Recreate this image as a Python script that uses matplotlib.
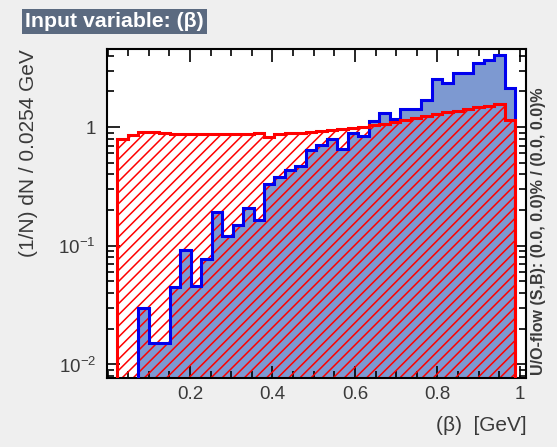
import numpy as np
import matplotlib
matplotlib.use("Agg")
import matplotlib.pyplot as plt
from matplotlib.ticker import FixedLocator, FuncFormatter, LogLocator, MultipleLocator

# ── binning ──────────────────────────────────────────────────────────────────
X_MIN = -0.0015
BIN_W = 0.0254
N_BINS = 40

# ── histogram contents (normalised) ─────────────────────────────────────────
# signal (blue), bins 0..39
signal = [0, 0, 0, 0.030, 0.015, 0.015, 0.045, 0.092, 0.046, 0.077,
          0.193, 0.120, 0.149, 0.207, 0.164, 0.330, 0.380, 0.434, 0.469, 0.640,
          0.705, 0.787, 0.648, 0.896, 0.840, 1.120, 1.320, 1.180, 1.410, 1.410,
          1.690, 2.530, 2.360, 2.880, 2.880, 3.450, 3.720, 4.050, 2.160, 0]
# background (red), bins 0..39
background = [0, 0.80, 0.86, 0.91, 0.91, 0.89, 0.88, 0.88, 0.87, 0.87,
              0.88, 0.87, 0.88, 0.88, 0.89, 0.83, 0.88, 0.885, 0.89, 0.91,
              0.92, 0.94, 0.96, 0.98, 1.01, 1.04, 1.07, 1.11, 1.15, 1.19,
              1.23, 1.28, 1.33, 1.37, 1.42, 1.47, 1.52, 1.56, 1.14, 0]

x_ticks = [0.2, 0.4, 0.6, 0.8, 1.0]
x_tick_labels = ["0.2", "0.4", "0.6", "0.8", "1"]
y_ticks = [1e-2, 1e-1, 1]
y_tick_labels = [r"10$^{-2}$", r"10$^{-1}$", "1"]

# ── style ────────────────────────────────────────────────────────────────────
plt.rcParams["font.family"] = ["Liberation Sans", "DejaVu Sans"]
plt.rcParams["mathtext.fontset"] = "custom"
plt.rcParams["mathtext.rm"] = "Liberation Sans"
plt.rcParams["hatch.linewidth"] = 1.1

C_SIG_FILL = "#7d99d1"
C_SIG_LINE = "#0000ee"
C_BKG = "#ff0000"
C_TEXT = "#3a3a3a"
C_BG = "#efefef"

fig = plt.figure(figsize=(5.57, 4.47), dpi=100, facecolor=C_BG)
ax = fig.add_axes([0.192, 0.154, 0.752, 0.736])
ax.set_facecolor("white")

edges = X_MIN + BIN_W * np.arange(N_BINS + 1)
sig = np.array(signal, dtype=float)
bkg = np.array(background, dtype=float)
floor = 1e-5


def step_outline(vals):
    # histogram outline as a step path, dropping to floor where a bin is empty
    xs, ys = [], []
    for i, v in enumerate(vals):
        v = v if v > 0 else floor
        xs += [edges[i], edges[i + 1]]
        ys += [v, v]
    return np.array(xs), np.array(ys)


sx, sy = step_outline(sig)
bx, by = step_outline(bkg)

# signal: filled
ax.fill_between(sx, floor, sy, facecolor=C_SIG_FILL, edgecolor="none", zorder=1)
# background: hatched, drawn on top
ax.fill_between(bx, floor, by, facecolor="none", edgecolor=C_BKG, hatch="///",
                linewidth=0, zorder=2)
ax.plot(sx, sy, color=C_SIG_LINE, lw=2.2, zorder=3, solid_joinstyle="miter")
ax.plot(bx, by, color=C_BKG, lw=2.2, zorder=4, solid_joinstyle="miter")

ax.set_yscale("log")
ax.set_xlim(edges[0], edges[-1])
ax.set_ylim(10 ** -2.118, 10 ** 0.658)

ax.xaxis.set_major_locator(FixedLocator(x_ticks))
ax.set_xticklabels(x_tick_labels)
ax.xaxis.set_minor_locator(MultipleLocator(0.05))
ax.yaxis.set_major_locator(FixedLocator(y_ticks))
ax.set_yticklabels(y_tick_labels)
ax.yaxis.set_minor_locator(LogLocator(base=10, subs=np.arange(2, 10)))
ax.yaxis.set_minor_formatter(FuncFormatter(lambda v, p: ""))

ax.tick_params(which="both", direction="in", top=True, right=True,
               colors="black", labelcolor=C_TEXT, labelsize=13.5, width=1.2)
ax.tick_params(which="major", length=9)
ax.tick_params(which="minor", length=5)
ax.tick_params(axis="x", pad=6)
ax.tick_params(axis="y", pad=8)
for s in ax.spines.values():
    s.set_linewidth(1.5)

ax.set_ylabel("(1/N) dN / 0.0254 GeV", fontsize=15, color=C_TEXT)
ax.yaxis.set_label_coords(-0.1645, 0.684)
fig.text(0.946, 0.049, "(\u03b2)  [GeV]", ha="right", va="center",
         fontsize=15, color=C_TEXT)

fig.text(0.966, 0.483, "U/O-flow (S,B): (0.0, 0.0)% / (0.0, 0.0)%",
         rotation=90, ha="center", va="center", fontsize=11.5,
         fontweight="bold", color=C_TEXT)

fig.text(0.045, 0.952, "Input variable: (\u03b2)", ha="left", va="center",
         fontsize=15.3, fontweight="bold", color="white",
         bbox=dict(boxstyle="square,pad=0.15", facecolor="#5b6a80",
                   edgecolor="none"))

fig.savefig("out.png", dpi=100, facecolor=C_BG)
